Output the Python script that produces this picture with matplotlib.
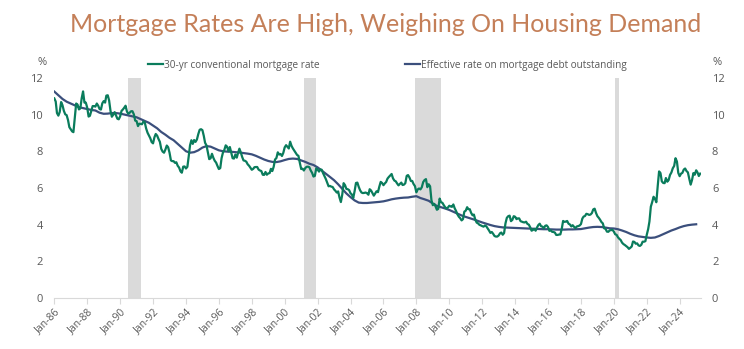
"""Mortgage rates vs effective rate on mortgage debt outstanding."""

import matplotlib
matplotlib.use("Agg")
import matplotlib.dates as mdates
import matplotlib.pyplot as plt
import pandas as pd

# 30-yr conventional mortgage rate, monthly, Jan-1986 onward
MORTGAGE_RATE = [
    10.88, 10.71, 10.08, 9.94, 10.14, 10.68, 10.51, 10.20, 10.01, 9.97, 9.70, 9.31,   # 1986
    9.20, 9.08, 9.04, 9.83, 10.60, 10.54, 10.28, 10.33, 10.89, 11.26, 10.65, 10.65,  # 1987
    10.38, 9.89, 9.93, 10.20, 10.46, 10.46, 10.43, 10.60, 10.48, 10.30, 10.27, 10.61,  # 1988
    10.73, 10.65, 11.03, 11.05, 10.77, 10.20, 9.88, 9.99, 10.13, 9.95, 9.77, 9.74,   # 1989
    9.90, 10.20, 10.27, 10.37, 10.48, 10.16, 10.04, 10.10, 10.18, 10.18, 10.01, 9.67,  # 1990
    9.64, 9.37, 9.50, 9.49, 9.47, 9.62, 9.58, 9.24, 9.01, 8.86, 8.71, 8.50,   # 1991
    8.43, 8.76, 8.94, 8.85, 8.67, 8.51, 8.13, 7.98, 7.92, 8.09, 8.31, 8.22,   # 1992
    7.92, 7.50, 7.46, 7.46, 7.37, 7.40, 7.21, 7.11, 6.91, 6.83, 7.16, 7.17,   # 1993
    7.06, 7.15, 7.68, 8.32, 8.60, 8.40, 8.61, 8.51, 8.64, 8.93, 9.17, 9.20,   # 1994
    9.15, 8.83, 8.46, 8.32, 7.96, 7.57, 7.61, 7.86, 7.64, 7.48, 7.38, 7.20,   # 1995
    7.03, 7.08, 7.62, 7.93, 8.07, 8.32, 8.25, 8.00, 8.23, 7.92, 7.62, 7.60,   # 1996
    7.82, 7.65, 7.90, 8.14, 7.94, 7.69, 7.50, 7.48, 7.43, 7.29, 7.21, 7.10,   # 1997
    6.99, 7.04, 7.13, 7.14, 7.14, 7.00, 6.95, 6.92, 6.72, 6.71, 6.87, 6.72,   # 1998
    6.79, 6.81, 7.04, 6.92, 7.15, 7.55, 7.63, 7.94, 7.82, 7.85, 7.74, 7.91,   # 1999
    8.21, 8.33, 8.24, 8.15, 8.52, 8.29, 8.15, 8.03, 7.91, 7.80, 7.75, 7.38,   # 2000
    7.03, 7.05, 6.95, 7.08, 7.15, 7.16, 7.13, 6.95, 6.82, 6.62, 6.66, 7.07,   # 2001
    7.00, 6.89, 7.01, 6.99, 6.81, 6.65, 6.49, 6.29, 6.09, 6.11, 6.07, 6.05,   # 2002
    5.92, 5.84, 5.75, 5.81, 5.48, 5.23, 5.63, 6.26, 6.15, 5.95, 5.93, 5.88,   # 2003
    5.71, 5.64, 5.45, 5.83, 6.27, 6.29, 6.06, 5.87, 5.75, 5.72, 5.73, 5.75,   # 2004
    5.71, 5.63, 5.93, 5.86, 5.72, 5.58, 5.70, 5.82, 5.77, 6.07, 6.33, 6.27,   # 2005
    6.15, 6.25, 6.32, 6.51, 6.60, 6.68, 6.76, 6.52, 6.40, 6.36, 6.24, 6.14,   # 2006
    6.22, 6.29, 6.16, 6.18, 6.26, 6.66, 6.70, 6.57, 6.38, 6.38, 6.21, 6.10,   # 2007
    5.76, 5.92, 5.97, 5.92, 6.04, 6.32, 6.43, 6.48, 6.04, 6.20, 6.09, 5.33,   # 2008
    5.06, 5.13, 5.00, 4.81, 4.86, 5.42, 5.22, 5.19, 5.06, 4.95, 4.88, 4.93,   # 2009
    5.03, 4.99, 4.97, 5.10, 4.89, 4.74, 4.56, 4.43, 4.35, 4.23, 4.30, 4.71,   # 2010
    4.76, 4.95, 4.84, 4.84, 4.64, 4.51, 4.55, 4.27, 4.11, 4.07, 3.99, 3.96,   # 2011
    3.92, 3.89, 3.95, 3.91, 3.80, 3.68, 3.55, 3.60, 3.50, 3.38, 3.35, 3.35,   # 2012
    3.41, 3.53, 3.57, 3.45, 3.54, 4.07, 4.37, 4.46, 4.49, 4.19, 4.26, 4.46,   # 2013
    4.43, 4.30, 4.34, 4.34, 4.19, 4.16, 4.13, 4.12, 4.16, 4.04, 4.00, 3.86,   # 2014
    3.67, 3.71, 3.77, 3.67, 3.84, 3.98, 4.05, 3.91, 3.89, 3.80, 3.94, 3.96,   # 2015
    3.87, 3.66, 3.69, 3.61, 3.60, 3.57, 3.44, 3.44, 3.46, 3.47, 3.77, 4.20,   # 2016
    4.15, 4.17, 4.20, 4.05, 4.01, 3.90, 3.97, 3.88, 3.81, 3.90, 3.92, 3.95,   # 2017
    4.03, 4.33, 4.44, 4.47, 4.59, 4.57, 4.53, 4.55, 4.63, 4.83, 4.87, 4.64,   # 2018
    4.46, 4.37, 4.27, 4.14, 4.07, 3.80, 3.77, 3.62, 3.61, 3.69, 3.70, 3.72,   # 2019
    3.62, 3.47, 3.45, 3.31, 3.23, 3.16, 3.02, 2.94, 2.89, 2.83, 2.77, 2.68,   # 2020
    2.74, 2.81, 3.08, 3.06, 2.96, 2.98, 2.87, 2.84, 2.90, 3.07, 3.07, 3.10,   # 2021
    3.45, 3.76, 4.17, 4.98, 5.23, 5.52, 5.41, 5.22, 6.11, 6.90, 6.81, 6.36,   # 2022
    6.27, 6.26, 6.54, 6.34, 6.43, 6.71, 6.84, 7.07, 7.20, 7.62, 7.44, 6.82,   # 2023
    6.64, 6.78, 6.82, 7.00, 7.06, 6.92, 6.85, 6.50, 6.18, 6.43, 6.81, 6.72,   # 2024
    6.96, 6.84, 6.65, 6.78,                                                   # 2025
]

# Effective rate on mortgage debt outstanding, quarterly, 1986Q1 onward
EFFECTIVE_RATE = [
    11.25, 11.05, 10.85, 10.70,  # 1986
    10.60, 10.50, 10.40, 10.35,  # 1987
    10.30, 10.25, 10.22, 10.10,  # 1988
    10.04, 10.05, 10.08, 10.08,  # 1989
    10.05, 10.00, 9.95, 9.90,    # 1990
    9.85, 9.75, 9.65, 9.55,      # 1991
    9.40, 9.25, 9.05, 8.90,      # 1992
    8.73, 8.60, 8.40, 8.20,      # 1993
    8.00, 7.92, 7.95, 8.05,      # 1994
    8.20, 8.28, 8.25, 8.15,      # 1995
    8.05, 8.00, 7.98, 7.97,      # 1996
    7.95, 7.93, 7.90, 7.87,      # 1997
    7.83, 7.75, 7.65, 7.55,      # 1998
    7.47, 7.42, 7.41, 7.45,      # 1999
    7.52, 7.58, 7.60, 7.58,      # 2000
    7.50, 7.42, 7.32, 7.25,      # 2001
    7.12, 6.95, 6.78, 6.60,      # 2002
    6.42, 6.20, 5.95, 5.70,      # 2003
    5.50, 5.32, 5.20, 5.18,      # 2004
    5.18, 5.20, 5.22, 5.24,      # 2005
    5.27, 5.32, 5.38, 5.42,      # 2006
    5.45, 5.47, 5.48, 5.52,      # 2007
    5.55, 5.45, 5.38, 5.30,      # 2008
    5.15, 5.02, 4.95, 4.88,      # 2009
    4.80, 4.70, 4.60, 4.50,      # 2010
    4.42, 4.35, 4.28, 4.20,      # 2011
    4.12, 4.05, 3.98, 3.92,      # 2012
    3.88, 3.85, 3.84, 3.83,      # 2013
    3.82, 3.81, 3.80, 3.79,      # 2014
    3.78, 3.77, 3.76, 3.75,      # 2015
    3.75, 3.74, 3.73, 3.73,      # 2016
    3.73, 3.74, 3.74, 3.75,      # 2017
    3.76, 3.80, 3.84, 3.87,      # 2018
    3.88, 3.87, 3.84, 3.80,      # 2019
    3.79, 3.75, 3.68, 3.60,      # 2020
    3.50, 3.42, 3.36, 3.33,      # 2021
    3.30, 3.28, 3.30, 3.38,      # 2022
    3.48, 3.58, 3.68, 3.76,      # 2023
    3.85, 3.92, 3.97, 4.00,      # 2024
    4.02,                        # 2025
]

RECESSIONS = [
    ("1990-07-01", "1991-03-31"),
    ("2001-03-01", "2001-11-30"),
    ("2007-12-01", "2009-06-30"),
    ("2020-02-01", "2020-04-30"),
]

TITLE = "Mortgage Rates Are High, Weighing On Housing Demand"
LABEL_MORTGAGE = "30-yr conventional mortgage rate"
LABEL_EFFECTIVE = "Effective rate on mortgage debt outstanding"

GREEN = "#0a7c5c"
NAVY = "#3b4f7c"
GREY_TEXT = "#595959"
TITLE_COLOR = "#c47f58"


def main() -> None:
    plt.rcParams["font.family"] = ["Open Sans", "DejaVu Sans"]

    mort_dates = pd.date_range("1986-01-01", periods=len(MORTGAGE_RATE), freq="MS")
    eff_dates = pd.date_range("1986-01-01", periods=len(EFFECTIVE_RATE), freq="QS")

    fig = plt.figure(figsize=(7.44, 3.49), dpi=100)
    ax = fig.add_axes([0.073, 0.146, 0.869, 0.631])

    for start, end in RECESSIONS:
        ax.axvspan(pd.Timestamp(start), pd.Timestamp(end), color="#dadada", lw=0, zorder=0)

    ax.plot(mort_dates, MORTGAGE_RATE, color=GREEN, lw=1.6, label=LABEL_MORTGAGE, zorder=3)
    ax.plot(eff_dates, EFFECTIVE_RATE, color=NAVY, lw=1.6, label=LABEL_EFFECTIVE, zorder=2)

    ax.set_ylim(0, 12)
    ax.set_yticks(range(0, 13, 2))
    ax.set_xlim(pd.Timestamp("1986-01-01"), pd.Timestamp("2025-04-15"))
    ax.xaxis.set_major_locator(mdates.YearLocator(2, month=1, day=1))
    ax.xaxis.set_major_formatter(mdates.DateFormatter("%b-%y"))

    for side in ("top", "left", "right"):
        ax.spines[side].set_visible(False)
    ax.spines["bottom"].set_color("#d9d9d9")
    ax.tick_params(axis="x", colors="#d9d9d9", labelcolor=GREY_TEXT, labelsize=7.5,
                   length=4, pad=2)
    ax.tick_params(axis="y", length=0, labelcolor=GREY_TEXT, labelsize=8,
                   labelright=True, pad=8)
    for lbl in ax.get_xticklabels():
        lbl.set_rotation(45)
        lbl.set_ha("right")
        lbl.set_rotation_mode("anchor")

    fig.text(0.05, 0.815, "%", color=GREY_TEXT, fontsize=8)
    fig.text(0.958, 0.815, "%", color=GREY_TEXT, fontsize=8)

    leg = ax.legend(loc="lower center", bbox_to_anchor=(0.515, 1.0), ncol=2, frameon=False,
                    fontsize=7.2, handlelength=1.5, handletextpad=0.1, columnspacing=8.5,
                    borderaxespad=0.3)
    for txt in leg.get_texts():
        txt.set_color(GREY_TEXT)

    fig.text(0.518, 0.93, TITLE, ha="center", va="center", color=TITLE_COLOR,
             fontsize=18, family=["Lato", "DejaVu Sans"])

    fig.savefig("out.png", dpi=100)
    plt.close(fig)


if __name__ == "__main__":
    main()
